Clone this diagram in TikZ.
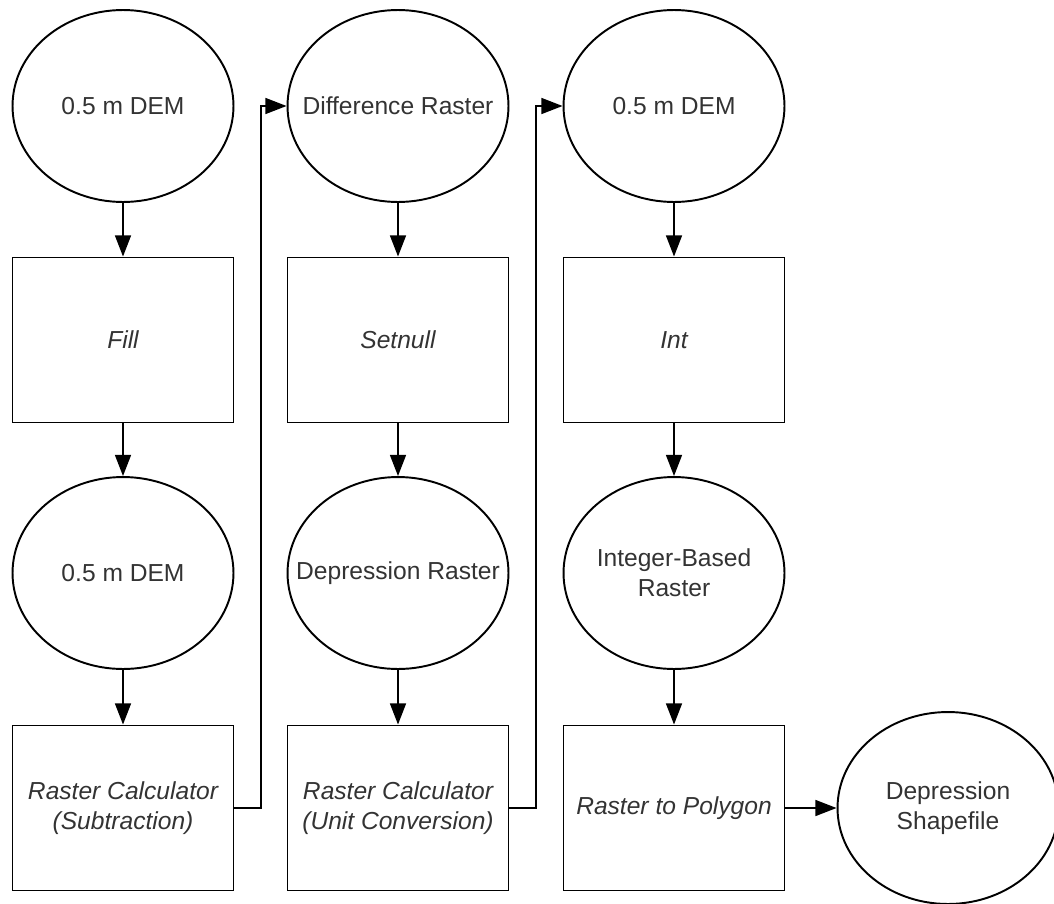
\documentclass[tikz,border=0pt]{standalone}
\usepackage{fontspec}
\setmainfont{Liberation Sans}
\usetikzlibrary{shapes.geometric,arrows.meta}

\newcommand{\labelsize}{\fontsize{14}{17}\selectfont}

\begin{document}
\begin{tikzpicture}[x=0.02cm, y=-0.02cm,
    data/.style={ellipse, draw, line width=1.1pt, minimum width=4.42cm, minimum height=3.84cm,
        inner xsep=-1.3cm, inner ysep=0pt, align=center, text=black!80, font=\labelsize},
    tool/.style={rectangle, draw, line width=1.1pt, minimum width=4.42cm, minimum height=3.3cm,
        inner sep=0pt, align=center, text=black!80, font=\labelsize\itshape},
    flow/.style={line width=1.1pt, -{Triangle[length=12pt, width=9pt]}}]
    \useasboundingbox (0,0) rectangle (1054,903);

    % Draw nodes
    \node[data] (1) at (123, 106) {0.5 m DEM};
    \node[tool] (2) at (123, 340) {Fill};
    \node[data] (3) at (123, 573) {0.5 m DEM};
    \node[tool] (4) at (123, 808) {Raster Calculator\\(Subtraction)};

    \node[data] (5) at (398, 106) {Difference Raster};
    \node[tool] (6) at (398, 340) {Setnull};
    \node[data] (7) at (398, 573) {Depression Raster};
    \node[tool] (8) at (398, 808) {Raster Calculator\\(Unit Conversion)};

    \node[data] (9) at (674, 106) {0.5 m DEM};
    \node[tool] (10) at (674, 340) {Int};
    \node[data] (11) at (674, 573) {Integer-Based\\Raster};
    \node[tool] (12) at (674, 808) {Raster to Polygon};

    \node[data] (13) at (948, 808) {Depression\\Shapefile};

    % Draw edges
    \draw[flow] (1) -- (2);
    \draw[flow] (2) -- (3);
    \draw[flow] (3) -- (4);
    \draw[flow] (4.east) -- ++(27,0) |- (5.west);
    \draw[flow] (5) -- (6);
    \draw[flow] (6) -- (7);
    \draw[flow] (7) -- (8);
    \draw[flow] (8.east) -- ++(27,0) |- (9.west);
    \draw[flow] (9) -- (10);
    \draw[flow] (10) -- (11);
    \draw[flow] (11) -- (12);
    \draw[flow] (12) -- (13);
\end{tikzpicture}
\end{document}
